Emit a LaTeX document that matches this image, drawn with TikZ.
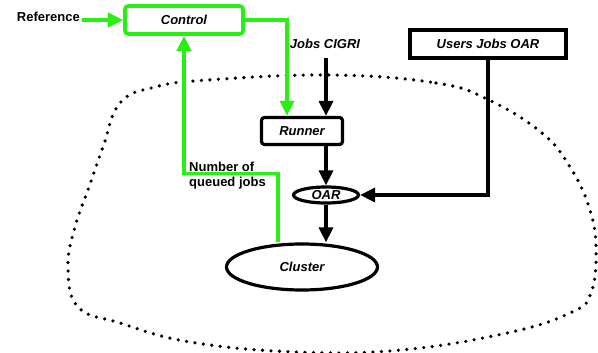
\documentclass[tikz,border=0pt]{standalone}
\usepackage{fontspec}
\setmainfont{Liberation Sans}
\usetikzlibrary{arrows.meta, positioning, shapes.geometric, calc}

\definecolor{loopgreen}{RGB}{40,240,20}

\begin{document}
\begin{tikzpicture}
[
    x=1pt, y=-1pt,
    font=\fontsize{13}{15}\selectfont\bfseries,
    box/.style={
        draw,
        rectangle,
        line width=3.2pt,
        align=center,
        font=\fontsize{13}{15}\selectfont\bfseries\itshape,
        inner sep=0pt,
    },
    oval/.style={
        draw,
        ellipse,
        line width=3.2pt,
        inner sep=0pt,
        font=\fontsize{13}{15}\selectfont\bfseries\itshape,
    },
    arrow/.style={-{Triangle[length=15pt,width=14pt]}, line width=3.4pt},
    feedback/.style={arrow, draw=loopgreen, line width=3.6pt}
]
\useasboundingbox (0,0) rectangle (598,353);

% The dotted border of the cluster
\draw[line width=3.6pt, line cap=round, dash pattern=on 0pt off 8.5pt]
    plot[smooth cycle, tension=0.7] coordinates {
        (331,75) (436,83) (489,100) (542,133) (570,167) (589,207) (596,247)
        (591,293) (570,313) (507,333) (401,350) (296,352) (190,342) (120,323)
        (78,307) (68,267) (75,227) (89,187) (103,147) (120,103) (155,87) (208,80)};

% Define the nodes
\node[box, draw=loopgreen, line width=3.6pt, rounded corners=3pt, minimum width=118pt, minimum height=28pt] (control) at (184,20) {Control};
\node[anchor=east, inner sep=0pt] (reference) at (80,17) {Reference};
\node[box, rounded corners=3pt, minimum width=81pt, minimum height=27pt] (runner) at (302,131) {Runner};
\node[box, minimum width=156pt, minimum height=28pt] (usersjobs) at (488,44) {Users Jobs OAR};
\node[oval, minimum width=65pt, minimum height=16pt] (oar) at (326,195) {OAR};
\node[oval, minimum width=151pt, minimum height=46pt] (cluster) at (302,267) {Cluster};
\node[inner sep=0pt, font=\fontsize{13}{15}\selectfont\bfseries\itshape] (jobscigri) at (325,44) {Jobs CIGRI};
\node[anchor=west, align=left, inner sep=0pt] (queued) at (189,176) {Number of\\queued jobs};
\coordinate (cigri) at (326,58);

% Control loop in green
\draw[feedback] ([xshift=2pt]reference.east |- control.west) -- (control.west);
\draw[feedback] (control.east) -| ([xshift=-15pt]runner.north);
\draw[feedback] ([xshift=-24pt]cluster.north) -- ++(0,-69) -| (control.south);

% Job flow in black
\draw[arrow] (cigri) -- ([xshift=24pt]runner.north);
\draw[arrow] ([xshift=24pt]runner.south) -- (oar.north);
\draw[arrow] (oar.south) -- (oar.south |- cluster.north);
\draw[arrow] (usersjobs.south) |- (oar.east);

\end{tikzpicture}
\end{document}
